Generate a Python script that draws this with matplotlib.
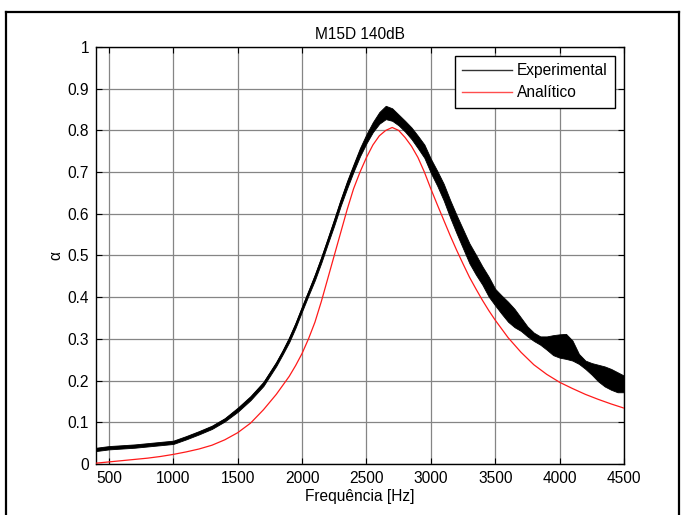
import matplotlib
matplotlib.use("Agg")
import matplotlib.pyplot as plt
from matplotlib.lines import Line2D
import numpy as np

plt.rcParams['font.family'] = ['Liberation Sans', 'DejaVu Sans']

# Analytical absorption coefficient
freq_ana = [400, 500, 600, 700, 800, 900, 1000, 1100, 1200, 1300, 1400, 1500,
            1600, 1700, 1800, 1900, 1950, 2000, 2050, 2100, 2150, 2200, 2250,
            2300, 2350, 2400, 2450, 2500, 2550, 2600, 2650, 2700, 2750, 2800,
            2850, 2900, 2950, 3000, 3050, 3100, 3150, 3200, 3250, 3300, 3350,
            3400, 3450, 3500, 3600, 3700, 3800, 3900, 4000, 4100, 4200, 4300,
            4400, 4500]
alpha_ana = [0.002, 0.005, 0.008, 0.011, 0.014, 0.018, 0.023, 0.029, 0.036,
             0.045, 0.058, 0.075, 0.098, 0.130, 0.167, 0.210, 0.236, 0.265,
             0.300, 0.340, 0.390, 0.445, 0.500, 0.555, 0.610, 0.660, 0.700,
             0.735, 0.765, 0.787, 0.800, 0.807, 0.800, 0.783, 0.762, 0.735,
             0.700, 0.660, 0.622, 0.585, 0.548, 0.513, 0.480, 0.448, 0.420,
             0.393, 0.368, 0.345, 0.303, 0.268, 0.238, 0.215, 0.196, 0.181,
             0.167, 0.155, 0.144, 0.134]

# Measured absorption coefficient: mean level and half-width of the scatter
freq_exp = [400, 500, 600, 700, 800, 900, 1000, 1100, 1200, 1300, 1400, 1500,
            1600, 1700, 1800, 1850, 1900, 1950, 2000, 2050, 2100, 2150, 2200,
            2250, 2300, 2350, 2400, 2450, 2500, 2550, 2600, 2650, 2700, 2750,
            2800, 2850, 2900, 2950, 3000, 3050, 3100, 3150, 3200, 3250, 3300,
            3350, 3400, 3450, 3500, 3550, 3600, 3650, 3700, 3750, 3800, 3850,
            3900, 3950, 4000, 4050, 4100, 4150, 4200, 4250, 4300, 4350, 4400,
            4450, 4500]
alpha_exp = [0.035, 0.039, 0.041, 0.043, 0.046, 0.049, 0.052, 0.063, 0.075,
             0.088, 0.106, 0.130, 0.158, 0.192, 0.240, 0.268, 0.298, 0.333,
             0.372, 0.410, 0.448, 0.490, 0.535, 0.580, 0.627, 0.670, 0.710,
             0.748, 0.780, 0.808, 0.830, 0.843, 0.838, 0.825, 0.810, 0.793,
             0.772, 0.750, 0.715, 0.685, 0.652, 0.612, 0.575, 0.540, 0.505,
             0.478, 0.452, 0.425, 0.400, 0.382, 0.365, 0.350, 0.335, 0.318,
             0.305, 0.296, 0.290, 0.285, 0.283, 0.282, 0.272, 0.252, 0.238,
             0.228, 0.218, 0.210, 0.203, 0.196, 0.192]
spread_exp = [0.004, 0.004, 0.004, 0.004, 0.004, 0.004, 0.004, 0.004, 0.004,
              0.004, 0.004, 0.005, 0.005, 0.005, 0.005, 0.005, 0.006, 0.006,
              0.006, 0.006, 0.007, 0.007, 0.007, 0.008, 0.008, 0.009, 0.009,
              0.010, 0.011, 0.012, 0.014, 0.016, 0.015, 0.013, 0.013, 0.014,
              0.015, 0.016, 0.017, 0.018, 0.020, 0.021, 0.022, 0.023, 0.024,
              0.024, 0.022, 0.024, 0.020, 0.022, 0.024, 0.022, 0.016, 0.012,
              0.010, 0.010, 0.016, 0.024, 0.028, 0.030, 0.024, 0.012, 0.010,
              0.014, 0.020, 0.024, 0.025, 0.024, 0.020]

x_ticks = [500, 1000, 1500, 2000, 2500, 3000, 3500, 4000, 4500]
y_ticks = [0, 0.1, 0.2, 0.3, 0.4, 0.5, 0.6, 0.7, 0.8, 0.9, 1]
y_tick_labels = ['0', '0.1', '0.2', '0.3', '0.4', '0.5', '0.6', '0.7', '0.8',
                 '0.9', '1']

W, H = 681, 515
fig = plt.figure(figsize=(W / 100, H / 100), dpi=100)
fig.patch.set_facecolor('white')

# page frame
for xs, ys in [((6, 679), (H - 12, H - 12)),
               ((6, 6), (H - 12, 0)),
               ((679, 679), (H - 12, 0))]:
    fig.add_artist(Line2D([xs[0] / W, xs[1] / W], [ys[0] / H, ys[1] / H],
                          transform=fig.transFigure, color='black', lw=1.6))

ax = fig.add_axes([96 / W, 1 - 464 / H, 528 / W, 417 / H])

fs = 11.2
e = np.array(alpha_exp)
s = np.array(spread_exp)
ax.fill_between(freq_exp, e - s, e + s, color='black', lw=0.6, zorder=3)
ax.plot(freq_exp, alpha_exp, color='black', lw=1.0, zorder=3)
ax.plot(freq_ana, alpha_ana, color='#ff1a1a', lw=0.9, zorder=4)

ax.set_xlim(400, 4500)
ax.set_ylim(0, 1)
ax.set_xticks(x_ticks)
ax.set_xticklabels([str(t) for t in x_ticks], fontsize=fs)
ax.set_yticks(y_ticks)
ax.set_yticklabels(y_tick_labels, fontsize=fs)
ax.tick_params(direction='in', length=4, width=0.8, top=True, right=True,
               pad=5, colors='black')
ax.grid(True, color='#858585', lw=0.9)
ax.set_axisbelow(True)
for sp in ax.spines.values():
    sp.set_color('black')
    sp.set_linewidth(1.0)

ax.set_title('M15D 140dB', fontsize=fs, pad=6)
ax.set_xlabel('Frequência [Hz]', fontsize=fs, labelpad=2)
ax.set_ylabel('α', fontsize=fs, labelpad=3)

handles = [Line2D([], [], color='#333333', lw=1.0),
           Line2D([], [], color='#ff4d4d', lw=1.0)]
leg = ax.legend(handles, ['Experimental', 'Analítico'], loc='upper right',
                fontsize=fs, frameon=True, fancybox=False, shadow=False,
                framealpha=1, edgecolor='black', handlelength=3.2,
                handletextpad=0.3, labelspacing=0.45, borderpad=0.5,
                borderaxespad=0.55)
leg.get_frame().set_linewidth(1.0)

fig.savefig('out.png', dpi=100)
